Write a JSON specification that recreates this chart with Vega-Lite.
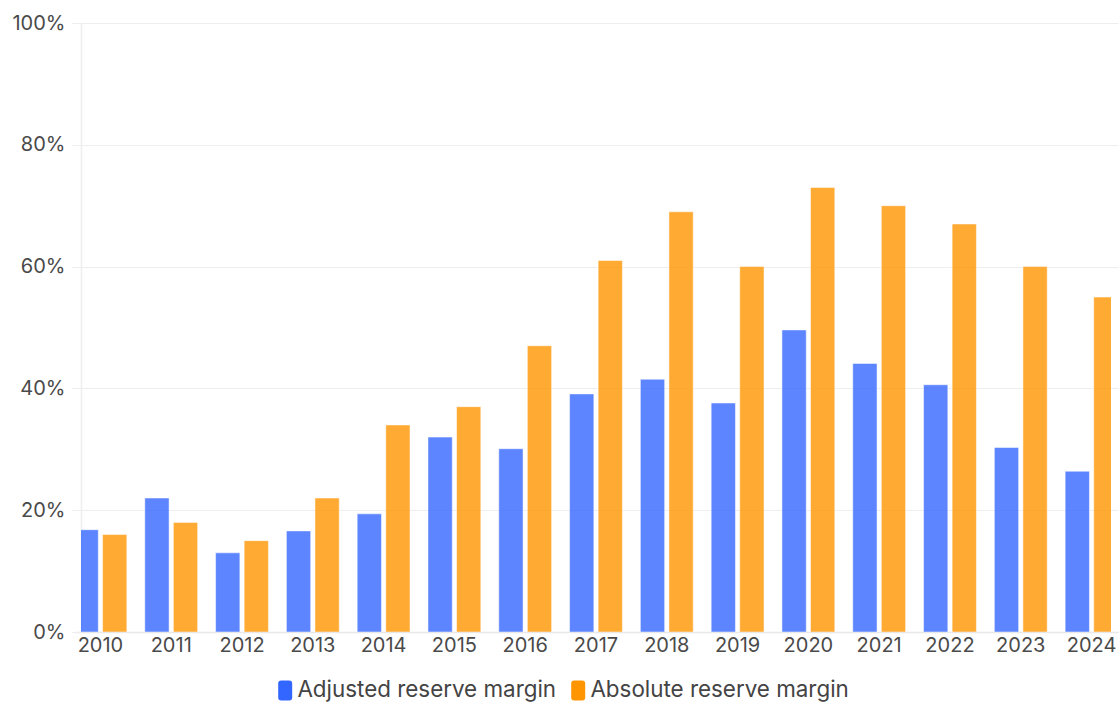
{
  "$schema": "https://vega.github.io/schema/vega-lite/v6.json",
  "width": 1030,
  "height": 609,
  "autosize": {"type": "none"},
  "padding": {"left": 81, "top": 23, "right": 8, "bottom": 70},
  "background": "white",
  "config": {
    "view": {"stroke": null},
    "font": "Inter",
    "axis": {"labelFont": "Inter", "labelColor": "#4a4a4a", "labelFontSize": 20, "title": null}
  },
  "data": {
    "values": [
      {"year": "2010", "series": "Adjusted reserve margin", "value": 16.8},
      {"year": "2010", "series": "Absolute reserve margin", "value": 16.0},
      {"year": "2011", "series": "Adjusted reserve margin", "value": 22.0},
      {"year": "2011", "series": "Absolute reserve margin", "value": 18.0},
      {"year": "2012", "series": "Adjusted reserve margin", "value": 13.0},
      {"year": "2012", "series": "Absolute reserve margin", "value": 15.0},
      {"year": "2013", "series": "Adjusted reserve margin", "value": 16.6},
      {"year": "2013", "series": "Absolute reserve margin", "value": 22.0},
      {"year": "2014", "series": "Adjusted reserve margin", "value": 19.4},
      {"year": "2014", "series": "Absolute reserve margin", "value": 34.0},
      {"year": "2015", "series": "Adjusted reserve margin", "value": 32.0},
      {"year": "2015", "series": "Absolute reserve margin", "value": 37.0},
      {"year": "2016", "series": "Adjusted reserve margin", "value": 30.1},
      {"year": "2016", "series": "Absolute reserve margin", "value": 47.0},
      {"year": "2017", "series": "Adjusted reserve margin", "value": 39.1},
      {"year": "2017", "series": "Absolute reserve margin", "value": 61.0},
      {"year": "2018", "series": "Adjusted reserve margin", "value": 41.5},
      {"year": "2018", "series": "Absolute reserve margin", "value": 69.0},
      {"year": "2019", "series": "Adjusted reserve margin", "value": 37.6},
      {"year": "2019", "series": "Absolute reserve margin", "value": 60.0},
      {"year": "2020", "series": "Adjusted reserve margin", "value": 49.6},
      {"year": "2020", "series": "Absolute reserve margin", "value": 73.0},
      {"year": "2021", "series": "Adjusted reserve margin", "value": 44.1},
      {"year": "2021", "series": "Absolute reserve margin", "value": 70.0},
      {"year": "2022", "series": "Adjusted reserve margin", "value": 40.6},
      {"year": "2022", "series": "Absolute reserve margin", "value": 67.0},
      {"year": "2023", "series": "Adjusted reserve margin", "value": 30.3},
      {"year": "2023", "series": "Absolute reserve margin", "value": 60.0},
      {"year": "2024", "series": "Adjusted reserve margin", "value": 26.4},
      {"year": "2024", "series": "Absolute reserve margin", "value": 55.0}
    ]
  },
  "mark": {"type": "bar", "clip": true, "fillOpacity": 0.8, "stroke": "white", "strokeOpacity": 0.5, "strokeWidth": 1},
  "encoding": {
    "x": {
      "field": "year", "type": "nominal", "sort": null,
      "scale": {"range": [-7, 1037], "paddingInner": 0.2534, "paddingOuter": 0},
      "axis": {"labelAngle": 0, "ticks": false, "domainColor": "#e8e8e8", "domainWidth": 1.5, "labelPadding": 3, "grid": false}
    },
    "xOffset": {
      "field": "series", "type": "nominal",
      "sort": ["Adjusted reserve margin", "Absolute reserve margin"],
      "scale": {"paddingInner": 0.15, "paddingOuter": 0}
    },
    "y": {
      "field": "value", "type": "quantitative",
      "scale": {"domain": [0, 100], "nice": false},
      "axis": {
        "values": [0, 20, 40, 60, 80, 100],
        "labelExpr": "datum.value + '%'",
        "grid": true, "gridColor": "#eeeeee", "gridWidth": 1,
        "domainColor": "#eeeeee", "domainWidth": 1.5,
        "tickColor": "#eeeeee", "tickSize": 10, "labelPadding": 6
      }
    },
    "color": {
      "field": "series", "type": "nominal",
      "sort": ["Adjusted reserve margin", "Absolute reserve margin"],
      "scale": {"domain": ["Adjusted reserve margin", "Absolute reserve margin"], "range": ["#3366ff", "#ff9500"]},
      "legend": {
        "title": null, "orient": "none", "direction": "horizontal",
        "legendX": 193, "legendY": 656,
        "labelFont": "Inter", "labelFontSize": 22.4, "labelColor": "#444444", "labelLimit": 0,
        "symbolType": "M-0.7,-0.7 Q-0.7,-1 -0.4,-1 L0.4,-1 Q0.7,-1 0.7,-0.7 L0.7,0.7 Q0.7,1 0.4,1 L-0.4,1 Q-0.7,1 -0.7,0.7 Z",
        "symbolSize": 400, "symbolOpacity": 1, "symbolFillOpacity": 1, "symbolStrokeWidth": 0,
        "labelOffset": 1, "columnPadding": 10
      }
    }
  }
}
